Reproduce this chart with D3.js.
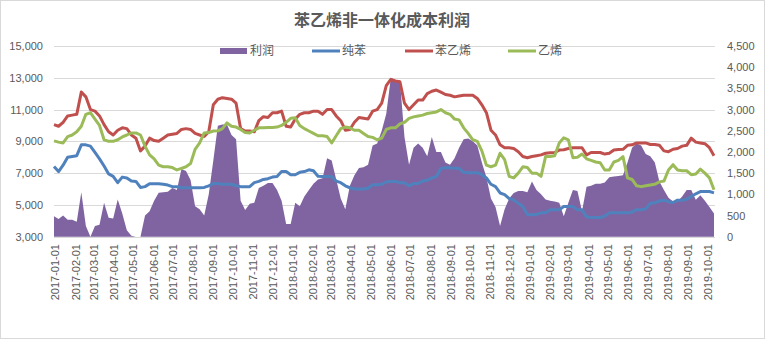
<!DOCTYPE html>
<html><head><meta charset="utf-8">
<script src="https://cdn.jsdelivr.net/npm/d3@7"></script>
<style>
html,body{margin:0;padding:0;background:#fff;}
svg{display:block;font-family:"Liberation Sans",Arial,"Noto Sans CJK SC",sans-serif;}
</style></head>
<body><svg id="c" width="766" height="341"></svg>
<script>
const title = "苯乙烯非一体化成本利润";
const seriesNames = ["利润", "纯苯", "苯乙烯", "乙烯"];
const leftTicks = [3000, 5000, 7000, 9000, 11000, 13000, 15000];
const rightTicks = [0, 500, 1000, 1500, 2000, 2500, 3000, 3500, 4000, 4500];
// weekly sample dates (categories)
const dates = d3.timeDay.range(new Date(2017, 0, 1), new Date(2019, 9, 14), 7);
const monthTicks = d3.timeMonth.range(new Date(2017, 0, 1), new Date(2019, 9, 2));

const profit = [
480,420,500,400,400,350,1050,250,0,250,
280,800,450,430,880,550,150,20,0,0,
500,600,850,1040,1050,1060,1150,1100,1600,1550,
1340,720,650,500,1000,1800,2620,2650,2650,2400,
2300,850,630,780,800,1150,1200,1270,1270,1100,
850,300,300,800,720,950,1100,1250,1350,1380,
1850,1800,1350,900,650,1200,1450,1620,1640,1700,
2150,2200,2500,2900,3750,3700,3680,2350,1700,2100,
2200,2100,1900,2350,2000,2000,1750,1700,1850,2100,
2300,2320,2250,2150,1750,1400,900,700,250,650,
900,1030,1080,1080,1050,1300,1100,1000,880,850,
830,800,480,800,1100,1080,600,1180,1200,1250,
1250,1280,1400,1420,1430,1450,1750,2100,2200,2150,
1950,1900,1750,1300,1100,920,830,830,950,1100,
1100,870,980,850,700,550];

const benzene = [
7420,7100,7500,8000,8050,8100,8780,8780,8700,8300,
7900,7450,6950,6800,6400,6750,6700,6500,6480,6100,
6150,6330,6330,6330,6300,6250,6150,6150,6080,6080,
6080,6080,6080,6100,6200,6350,6350,6300,6300,6300,
6200,6150,6150,6150,6400,6480,6600,6650,6750,6790,
7100,7100,6900,6900,7050,7100,7210,7150,6800,6790,
6790,6790,6500,6400,6200,6080,6000,6000,6000,6050,
6270,6270,6300,6450,6480,6480,6400,6400,6200,6350,
6350,6500,6550,6700,6790,7300,7340,7340,7300,7300,
7050,7030,7030,7030,6900,6700,6300,6150,5750,5650,
5400,5320,5100,4900,4400,4380,4400,4500,4500,4700,
4700,4700,4900,4900,4900,4700,4700,4250,4210,4210,
4210,4300,4500,4500,4500,4500,4500,4550,4700,4700,
4750,5100,5130,5250,5300,5200,5150,5300,5300,5350,
5530,5700,5840,5840,5840,5760];

const styrene = [
10050,9950,10200,10600,10650,10700,12100,11800,11000,10900,
10600,10050,9600,9400,9700,9850,9800,9400,9200,8400,
8700,9200,9050,9000,9200,9400,9450,9500,9750,9800,
9750,9500,9400,9300,9600,11300,11650,11750,11700,11650,
11400,9800,9650,9650,9600,10300,10550,10500,10800,10800,
10900,9950,9900,10400,10700,10800,10800,10900,10900,10700,
11000,11000,10600,10300,9700,9750,10200,10500,10450,10400,
10900,11000,11400,12500,12900,12800,12750,11400,11000,11300,
11600,11600,12000,12150,12230,12100,11950,11900,11800,11850,
11900,11900,11900,11700,11300,10800,9700,9400,8780,8600,
8600,8550,8350,8050,7970,8050,8100,8150,8250,8280,
8300,8450,8470,8550,8600,8600,8600,8150,8300,8300,
8300,8200,8250,8450,8480,8500,8750,8780,8900,8900,
8900,8800,8800,8750,8400,8350,8500,8550,8700,8750,
9200,8950,8900,8850,8600,8100];

const ethylene = [
9030,8950,8900,9300,9400,9600,9950,10700,10800,10400,
10000,9100,9000,9000,9100,9280,9400,9530,9530,9400,
8700,8150,7900,7500,7400,7400,7350,7200,7300,7400,
7600,8500,8900,9530,9550,9650,9660,9800,10160,9950,
9900,9750,9550,9530,9700,9850,9850,9870,9870,9900,
10000,10200,10450,10480,10000,9800,9650,9500,9350,9350,
9300,8900,9350,9800,9900,9850,9700,9700,9500,9300,
9250,9100,9200,9750,9850,9850,10100,10200,10450,10540,
10600,10650,10750,10800,10850,11000,10800,10700,10400,10350,
9850,9500,9100,9000,8400,7500,7400,7500,8250,7850,
6800,6700,7000,7400,7350,7000,7000,6800,8040,8050,
8100,8900,9220,9100,7970,8000,8200,7900,7800,7700,
7650,7200,7200,7700,7800,8040,6700,6600,6200,6150,
6200,6250,6300,6450,6500,7200,7530,7200,7150,7150,
6900,6950,7250,7000,6700,5950];

const colors = {profit: "#8064A2", benzene: "#4F81BD", styrene: "#C0504D", ethylene: "#9BBB59"};
const textColor = "#595959";

const svg = d3.select("#c");
const m = {left: 54, right: 714, top: 46, bottom: 236.7};

svg.append("rect").attr("x", 0.5).attr("y", 0.5).attr("width", 764).attr("height", 338)
  .attr("fill", "#fff").attr("stroke", "#D9D9D9");

const x = d3.scaleTime().domain([new Date(2017, 0, 1), new Date(2019, 9, 13)]).range([m.left, m.right]);
const yL = d3.scaleLinear().domain([3000, 15000]).range([m.bottom, m.top]);
const yR = d3.scaleLinear().domain([0, 4500]).range([m.bottom, m.top]);

// gridlines
svg.append("g").selectAll("line").data(leftTicks).join("line")
  .attr("x1", m.left).attr("x2", m.right + 1)
  .attr("y1", d => Math.round(yL(d)) + 0.5).attr("y2", d => Math.round(yL(d)) + 0.5)
  .attr("stroke", "#D9D9D9").attr("stroke-width", 1);

// left axis
const axL = d3.axisLeft(yL).tickValues(leftTicks).tickSize(0).tickPadding(0).tickFormat(d3.format(","));
const gL = svg.append("g").attr("transform", `translate(${m.left - 11},0)`).call(axL);
gL.select(".domain").remove();
gL.selectAll("text").attr("fill", textColor).style("font-size", "11px").style("font-family", "Liberation Sans, Arial");

// right axis
const axR = d3.axisRight(yR).tickValues(rightTicks).tickSize(0).tickPadding(0).tickFormat(d3.format(","));
const gR = svg.append("g").attr("transform", `translate(727,0)`).call(axR);
gR.select(".domain").remove();
gR.selectAll("text").attr("fill", textColor).style("font-size", "11px").style("font-family", "Liberation Sans, Arial");

// x axis labels
const gX = svg.append("g");
gX.selectAll("text").data(monthTicks).join("text")
  .attr("transform", d => `translate(${x(d) + 1.5},244) rotate(-90)`)
  .attr("text-anchor", "end").attr("dy", "0.35em")
  .attr("fill", textColor).style("font-size", "11px")
  .text(d3.timeFormat("%Y-%m-%d"));

// profit area
const area = d3.area().x((d, i) => x(dates[i])).y0(yR(0)).y1(d => yR(d));
svg.append("path").datum(profit).attr("d", area).attr("fill", colors.profit);

// lines
const line = d3.line().x((d, i) => x(dates[i])).y(d => yL(d));
[[benzene, colors.benzene], [styrene, colors.styrene], [ethylene, colors.ethylene]].forEach(([s, c]) => {
  svg.append("path").datum(s).attr("d", line).attr("fill", "none")
    .attr("stroke", c).attr("stroke-width", 3).attr("stroke-linejoin", "round");
});

// title
svg.append("text").attr("x", 382).attr("y", 26).attr("text-anchor", "middle")
  .attr("fill", textColor).style("font-size", "16px").style("font-weight", "bold")
  .style("font-family", "Noto Sans CJK SC, sans-serif").text(title);

// legend
const legendItems = [
  {name: seriesNames[0], color: colors.profit, type: "rect", x: 220},
  {name: seriesNames[1], color: colors.benzene, type: "line", x: 312},
  {name: seriesNames[2], color: colors.styrene, type: "line", x: 405},
  {name: seriesNames[3], color: colors.ethylene, type: "line", x: 508}
];
const lg = svg.append("g");
legendItems.forEach(it => {
  if (it.type === "rect") {
    lg.append("rect").attr("x", it.x).attr("y", 48).attr("width", 27).attr("height", 6).attr("fill", it.color);
  } else {
    lg.append("line").attr("x1", it.x).attr("x2", it.x + 28).attr("y1", 51).attr("y2", 51)
      .attr("stroke", it.color).attr("stroke-width", 3);
  }
  lg.append("text").attr("x", it.x + 30).attr("y", 51).attr("dy", "0.35em")
    .attr("fill", textColor).style("font-size", "12px")
    .style("font-family", "Noto Sans CJK SC, sans-serif").text(it.name);
});
</script></body></html>
